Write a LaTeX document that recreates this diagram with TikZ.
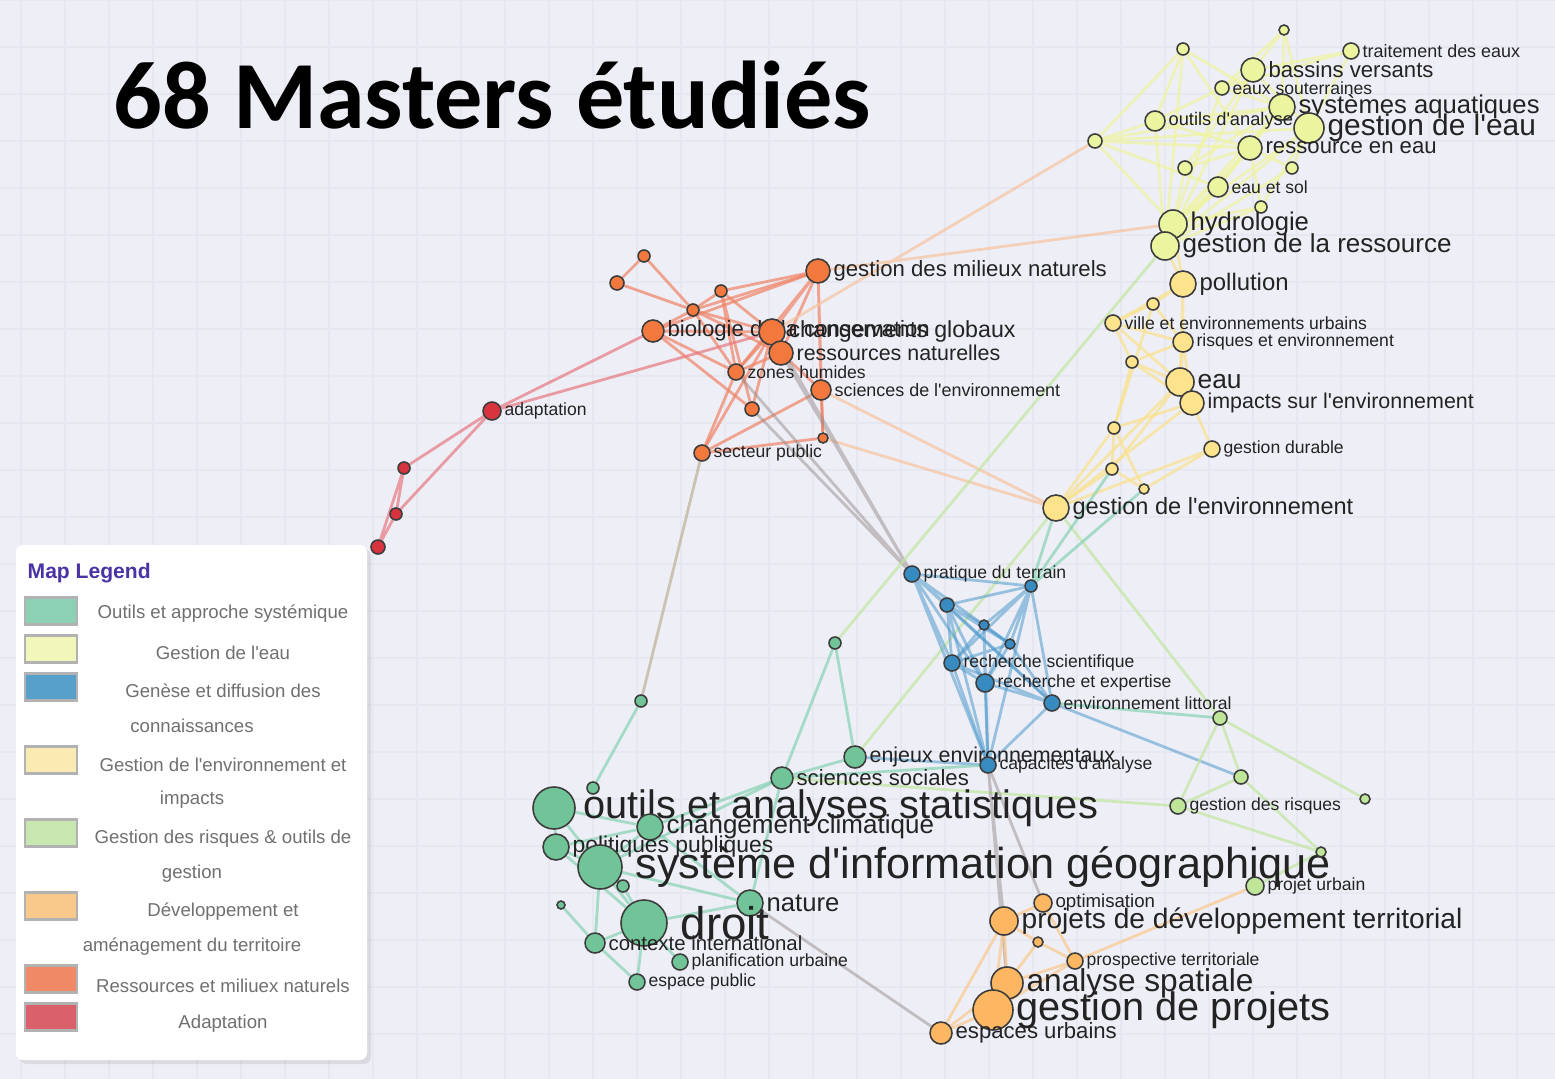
\documentclass[tikz,border=0pt]{standalone}
\usepackage{fontspec}
\setmainfont{Liberation Sans}
\newfontfamily\titlefont{Carlito}
\usetikzlibrary{shadows}
\pgfdeclarelayer{grille}
\pgfdeclarelayer{liens}
\pgfsetlayers{grille,liens,main}
\newcommand{\ap}{\textquotesingle}

\definecolor{fond}{RGB}{238,239,246}
\definecolor{grillec}{RGB}{230,231,240}
\definecolor{lbl}{RGB}{35,35,35}
\definecolor{nodeline}{RGB}{60,60,60}
\definecolor{eauF}{RGB}{235,244,158}
\definecolor{envF}{RGB}{253,227,140}
\definecolor{resF}{RGB}{243,120,62}
\definecolor{adF}{RGB}{215,52,64}
\definecolor{genF}{RGB}{56,139,192}
\definecolor{risF}{RGB}{190,229,152}
\definecolor{devF}{RGB}{253,183,98}
\definecolor{outF}{RGB}{112,196,152}
\definecolor{eauL}{RGB}{238,244,160}
\definecolor{envL}{RGB}{250,225,140}
\definecolor{resL}{RGB}{240,130,100}
\definecolor{adL}{RGB}{232,120,130}
\definecolor{genL}{RGB}{80,155,205}
\definecolor{risL}{RGB}{195,230,160}
\definecolor{devL}{RGB}{252,200,140}
\definecolor{outL}{RGB}{135,210,180}
\definecolor{grisL}{RGB}{150,140,140}
\definecolor{tanL}{RGB}{190,175,150}
\definecolor{oraL}{RGB}{247,195,160}
\definecolor{lgOut}{RGB}{141,209,180}
\definecolor{lgEau}{RGB}{241,247,187}
\definecolor{lgGen}{RGB}{86,160,203}
\definecolor{lgEnv}{RGB}{250,235,178}
\definecolor{lgRis}{RGB}{200,231,176}
\definecolor{lgDev}{RGB}{249,200,139}
\definecolor{lgRes}{RGB}{240,138,102}
\definecolor{lgAd}{RGB}{218,96,107}
\definecolor{legtitle}{RGB}{75,50,165}
\definecolor{legtxt}{RGB}{112,112,112}

\begin{document}
\begin{tikzpicture}[x=0.1mm, y=-0.1mm]
	\tikzset{nd/.style={circle, draw=nodeline, line width=0.45pt, inner sep=0pt},
		eauN/.style={nd, fill=eauF}, envN/.style={nd, fill=envF},
		resN/.style={nd, fill=resF}, adN/.style={nd, fill=adF},
		genN/.style={nd, fill=genF}, risN/.style={nd, fill=risF},
		devN/.style={nd, fill=devF}, outN/.style={nd, fill=outF},
		lb/.style={font=\fontsize{#1}{#1}\selectfont, text=lbl, inner sep=0.6pt},
		lien/.style={line width=0.8pt, opacity=0.7},
		eauE/.style={lien, draw=eauL}, envE/.style={lien, draw=envL},
		resE/.style={lien, draw=resL}, adE/.style={lien, draw=adL},
		genE/.style={lien, draw=genL, opacity=0.55}, risE/.style={lien, draw=risL},
		devE/.style={lien, draw=devL}, outE/.style={lien, draw=outL},
		grisE/.style={lien, draw=grisL, opacity=0.5}, tanE/.style={lien, draw=tanL},
		oraE/.style={lien, draw=oraL},
		swatch/.style={draw=black!30, line width=0.8pt, minimum width=5.2mm, minimum height=2.7mm, inner sep=0pt},
		legtext/.style={font=\fontsize{5.3}{6}\selectfont, text=legtxt, inner sep=0pt}}

	\useasboundingbox (0,0) rectangle (1555,1079);
	\begin{pgfonlayer}{grille}
		\fill[fond] (0,0) rectangle (1555,1079);
		\draw[grillec, line width=0.3pt, xstep=4.4mm, ystep=4.7mm, xshift=2.1mm] (-21,1079) grid (1534,0);
	\end{pgfonlayer}

	\node[anchor=base west, inner sep=0pt] (titre) at (113,129) {\titlefont\bfseries\fontsize{27.4}{30}\selectfont 68 Masters étudiés};

	% gestion de l'eau
	\node[eauN, minimum size=1.0mm] (w1) at (1284,30) {};
	\node[eauN, minimum size=1.2mm] (w2) at (1183,49) {};
	\node[eauN, minimum size=1.6mm, label={[lb=5.1]right:traitement des eaux}] (trait) at (1351,51) {};
	\node[eauN, minimum size=2.4mm, label={[lb=6.3]right:bassins versants}] (bass) at (1253,70) {};
	\node[eauN, minimum size=1.4mm, label={[lb=5]right:eaux souterraines}] (souter) at (1222,88) {};
	\node[eauN, minimum size=2.6mm, label={[lb=7.3]right:systèmes aquatiques}] (aqua) at (1282,107) {};
	\node[eauN, minimum size=1.4mm] (w3) at (1095,141) {};
	\node[eauN, minimum size=2.0mm, label={[lb=5.2]right:outils d\ap analyse}] (outan) at (1155,121) {};
	\node[eauN, minimum size=3.0mm, label={[lb=8.5]right:gestion de l\ap eau}] (geau) at (1309,128) {};
	\node[eauN, minimum size=2.4mm, label={[lb=6.3]right:ressource en eau}] (ress) at (1250,148) {};
	\node[eauN, minimum size=1.4mm] (w4) at (1185,168) {};
	\node[eauN, minimum size=1.2mm] (w5) at (1292,168) {};
	\node[eauN, minimum size=2.0mm, label={[lb=5]right:eau et sol}] (sol) at (1218,187) {};
	\node[eauN, minimum size=1.2mm] (w6) at (1261,207) {};
	\node[eauN, minimum size=2.8mm, label={[lb=7.3]right:hydrologie}] (hydro) at (1173,224) {};
	\node[eauN, minimum size=2.8mm, label={[lb=7.4]right:gestion de la ressource}] (gress) at (1165,246) {};

	% environnement et impacts
	\node[envN, minimum size=2.6mm, label={[lb=6.8]right:pollution}] (poll) at (1183,284) {};
	\node[envN, minimum size=1.2mm] (e1) at (1153,304) {};
	\node[envN, minimum size=1.6mm, label={[lb=5]right:ville et environnements urbains}] (ville) at (1113,323) {};
	\node[envN, minimum size=2.0mm, label={[lb=5]right:risques et environnement}] (risq) at (1183,342) {};
	\node[envN, minimum size=1.2mm] (e2) at (1132,362) {};
	\node[envN, minimum size=2.8mm, label={[lb=7.5]right:eau}] (eau) at (1180,382) {};
	\node[envN, minimum size=2.4mm, label={[lb=6.1]right:impacts sur l\ap environnement}] (impa) at (1192,403) {};
	\node[envN, minimum size=1.2mm] (e3) at (1114,428) {};
	\node[envN, minimum size=1.6mm, label={[lb=5]right:gestion durable}] (durab) at (1212,449) {};
	\node[envN, minimum size=1.2mm] (e4) at (1112,469) {};
	\node[envN, minimum size=1.0mm] (e5) at (1144,489) {};
	\node[envN, minimum size=2.6mm, label={[lb=6.7]right:gestion de l\ap environnement}] (genv) at (1056,508) {};

	% ressources et milieux naturels
	\node[resN, minimum size=1.2mm] (r1) at (644,256) {};
	\node[resN, minimum size=1.4mm] (r2) at (617,283) {};
	\node[resN, minimum size=1.2mm] (r3) at (721,291) {};
	\node[resN, minimum size=1.2mm] (r4) at (693,310) {};
	\node[resN, minimum size=2.4mm, label={[lb=6.3]right:gestion des milieux naturels}] (gmil) at (818,271) {};
	\node[resN, minimum size=2.2mm, label={[lb=6.3]right:biologie de la conservation}] (bio) at (653,331) {};
	\node[resN, minimum size=2.6mm, label={[lb=6.6]right:changements globaux}] (chgl) at (772,332) {};
	\node[resN, minimum size=2.4mm, label={[lb=6.1]right:ressources naturelles}] (rnat) at (781,353) {};
	\node[resN, minimum size=1.6mm, label={[lb=5]right:zones humides}] (zone) at (736,372) {};
	\node[resN, minimum size=2.0mm, label={[lb=5.1]right:sciences de l\ap environnement}] (scenv) at (821,390) {};
	\node[resN, minimum size=1.4mm] (r5) at (752,409) {};
	\node[resN, minimum size=1.0mm] (r6) at (823,438) {};
	\node[resN, minimum size=1.6mm, label={[lb=5]right:secteur public}] (secp) at (702,453) {};

	% adaptation
	\node[adN, minimum size=1.8mm, label={[lb=5]right:adaptation}] (adap) at (492,411) {};
	\node[adN, minimum size=1.2mm] (a1) at (404,468) {};
	\node[adN, minimum size=1.2mm] (a2) at (396,514) {};
	\node[adN, minimum size=1.4mm] (a3) at (378,547) {};

	% genese et diffusion des connaissances
	\node[genN, minimum size=1.6mm, label={[lb=5]right:pratique du terrain}] (prat) at (912,574) {};
	\node[genN, minimum size=1.2mm] (b1) at (1031,586) {};
	\node[genN, minimum size=1.4mm] (b2) at (947,605) {};
	\node[genN, minimum size=1.0mm] (b3) at (984,625) {};
	\node[genN, minimum size=1.0mm] (b4) at (1010,644) {};
	\node[genN, minimum size=1.6mm, label={[lb=5]right:recherche scientifique}] (rsci) at (952,663) {};
	\node[genN, minimum size=1.8mm, label={[lb=5]right:recherche et expertise}] (rexp) at (985,683) {};
	\node[genN, minimum size=1.6mm, label={[lb=5]right:environnement littoral}] (litt) at (1052,703) {};

	% gestion des risques
	\node[risN, minimum size=1.4mm] (g1) at (1220,718) {};
	\node[risN, minimum size=1.4mm] (g2) at (1241,777) {};
	\node[risN, minimum size=1.0mm] (g3) at (1365,799) {};
	\node[risN, minimum size=1.6mm, label={[lb=5]right:gestion des risques}] (grisq) at (1178,806) {};

	% outils et approche systemique
	\node[outN, minimum size=1.2mm] (n1) at (835,643) {};
	\node[outN, minimum size=1.2mm] (n2) at (641,701) {};
	\node[outN, minimum size=2.2mm, label={[lb=6.1]right:enjeux environnementaux}] (enjeux) at (855,757) {};
	\node[genN, minimum size=1.6mm, label={[lb=5]right:capacités d\ap analyse}] (capa) at (988,765) {};
	\node[outN, minimum size=2.2mm, label={[lb=6.3]right:sciences sociales}] (socio) at (782,778) {};
	\node[outN, minimum size=1.2mm] (n3) at (593,788) {};
	\node[outN, minimum size=4.2mm, label={[lb=11.3, xshift=0.5mm]right:outils et analyses statistiques}] (stat) at (554,808) {};
	\node[outN, minimum size=2.6mm, label={[lb=7.4]right:changement climatique}] (chclim) at (650,827) {};
	\node[outN, minimum size=2.6mm, label={[lb=6.5]right:politiques publiques}] (polit) at (556,847) {};
	\node[outN, minimum size=4.4mm, label={[lb=12.3, xshift=1mm]right:système d\ap information géographique}] (sig) at (600,867) {};
	\node[outN, minimum size=1.2mm] (n4) at (623,886) {};
	\node[outN, minimum size=0.8mm] (n5) at (561,905) {};
	\node[outN, minimum size=2.6mm, label={[lb=7.3]right:nature}] (nature) at (750,903) {};
	\node[outN, minimum size=4.6mm, label={[lb=13, xshift=1mm]right:droit}] (droit) at (644,923) {};
	\node[outN, minimum size=2.0mm, label={[lb=5.8]right:contexte international}] (ctx) at (595,943) {};
	\node[outN, minimum size=1.6mm, label={[lb=5]right:planification urbaine}] (plan) at (680,962) {};
	\node[outN, minimum size=1.6mm, label={[lb=5]right:espace public}] (esp) at (637,982) {};

	% developpement et amenagement du territoire
	\node[risN, minimum size=1.0mm] (g4) at (1321,852) {};
	\node[risN, minimum size=1.8mm, label={[lb=5]right:projet urbain}] (purb) at (1255,886) {};
	\node[devN, minimum size=1.8mm, label={[lb=5.3]right:optimisation}] (optim) at (1043,903) {};
	\node[devN, minimum size=2.8mm, label={[lb=8]right:projets de développement territorial}] (projdev) at (1004,921) {};
	\node[devN, minimum size=1.0mm] (o1) at (1038,942) {};
	\node[devN, minimum size=1.6mm, label={[lb=5]right:prospective territoriale}] (prosp) at (1075,961) {};
	\node[devN, minimum size=3.2mm, label={[lb=9]right:analyse spatiale}] (anasp) at (1007,983) {};
	\node[devN, minimum size=4.0mm, label={[lb=11.3]right:gestion de projets}] (gproj) at (993,1010) {};
	\node[devN, minimum size=2.2mm, label={[lb=6.3]right:espaces urbains}] (espu) at (941,1033) {};

	\begin{pgfonlayer}{liens}
		\draw[eauE] (w1) -- (bass) (w1) -- (geau) (w1) -- (souter) (w1) -- (aqua);
		\draw[eauE] (w2) -- (outan) (w2) -- (gress) (w2) -- (ress) (w2) -- (aqua) (w2) -- (w3);
		\draw[eauE] (trait) -- (bass) (trait) -- (souter) (trait) -- (geau);
		\draw[eauE] (bass) -- (souter) (bass) -- (geau) (bass) -- (w4) (bass) -- (gress);
		\draw[eauE] (souter) -- (outan) (souter) -- (hydro) (souter) -- (aqua);
		\draw[eauE] (outan) -- (w3) (outan) -- (aqua) (outan) -- (gress) (outan) -- (ress);
		\draw[eauE] (w3) -- (aqua) (w3) -- (ress) (w3) -- (hydro) (w3) -- (geau) (w3) -- (sol);
		\draw[eauE] (ress) -- (aqua) (ress) -- (sol) (ress) -- (hydro) (ress) -- (gress) (ress) -- (w6);
		\draw[eauE] (w4) -- (hydro) (w4) -- (ress) (w4) -- (aqua);
		\draw[eauE] (w5) -- (ress) (w5) -- (gress) (w5) -- (geau);
		\draw[eauE] (sol) -- (hydro) (sol) -- (gress) (sol) -- (aqua);
		\draw[eauE] (w6) -- (hydro) (w6) -- (geau) (w6) -- (gress);
		\draw[eauE] (hydro) -- (geau) (gress) -- (geau) (hydro) -- (aqua) (hydro) -- (gress);
		\draw[envE] (poll) -- (gress) (poll) -- (hydro);
		\draw[envE] (poll) -- (e1) (poll) -- (risq) (poll) -- (eau) (poll) -- (ville);
		\draw[envE] (e1) -- (ville) (e1) -- (risq) (e1) -- (e3);
		\draw[envE] (ville) -- (e2) (ville) -- (risq) (ville) -- (eau);
		\draw[envE] (e2) -- (risq) (e2) -- (eau) (e2) -- (e3) (e2) -- (impa);
		\draw[envE] (risq) -- (eau) (risq) -- (impa) (eau) -- (impa) (eau) -- (e4) (eau) -- (genv);
		\draw[envE] (impa) -- (durab) (impa) -- (e3) (impa) -- (genv);
		\draw[envE] (e3) -- (e4) (e3) -- (e5) (e3) -- (genv) (e4) -- (genv) (e4) -- (e5);
		\draw[envE] (durab) -- (e5) (durab) -- (genv);
		\draw[resE] (r1) -- (r4) (r1) -- (r2) (r2) -- (r4) (r3) -- (r4) (r3) -- (gmil) (r3) -- (zone) (r3) -- (r5) (r3) -- (chgl);
		\draw[resE] (r4) -- (gmil) (r4) -- (bio) (r4) -- (chgl) (r4) -- (zone) (r4) -- (rnat);
		\draw[resE] (gmil) -- (bio) (gmil) -- (chgl) (gmil) -- (rnat) (gmil) -- (zone) (gmil) -- (scenv) (gmil) -- (r6);
		\draw[resE] (bio) -- (chgl) (bio) -- (r5) (bio) -- (zone);
		\draw[resE] (chgl) -- (rnat) (chgl) -- (zone) (chgl) -- (secp) (chgl) -- (r5);
		\draw[resE] (rnat) -- (zone) (rnat) -- (scenv) (scenv) -- (secp) (scenv) -- (r6) (secp) -- (r6) (secp) -- (zone);
		\draw[adE] (adap) -- (bio) (adap) -- (chgl) (adap) -- (a1) (adap) -- (a2) (a1) -- (a2) (a1) -- (a3) (a2) -- (a3);
		\draw[oraE] (gmil) -- (hydro) (chgl) -- (w3) (scenv) -- (genv) (r6) -- (genv);
		\draw[grisE] (zone) -- (prat) (r5) -- (prat) (rnat) -- (prat) (chgl) -- (prat);
		\draw[tanE] (secp) -- (n2);
		\draw[outE] (n2) -- (n3) (n1) -- (enjeux) (n1) -- (socio);
		\draw[risE] (n1) -- (gress) (enjeux) -- (genv) (genv) -- (g1);
		\draw[outE] (genv) -- (b1) (e4) -- (b1) (e5) -- (b1);
		\draw[genE] (prat) -- (b1) (prat) -- (b2) (prat) -- (b3) (prat) -- (b4) (prat) -- (rsci) (prat) -- (rexp) (prat) -- (litt) (prat) -- (capa);
		\draw[genE] (b1) -- (b2) (b1) -- (b3) (b1) -- (b4) (b1) -- (rsci) (b1) -- (rexp) (b1) -- (litt) (b1) -- (capa);
		\draw[genE] (b2) -- (b3) (b2) -- (b4) (b2) -- (rsci) (b2) -- (rexp) (b2) -- (litt) (b2) -- (capa);
		\draw[genE] (b3) -- (b4) (b3) -- (rsci) (b3) -- (rexp) (b3) -- (capa) (b4) -- (rsci) (b4) -- (rexp) (b4) -- (litt);
		\draw[genE] (rsci) -- (rexp) (rsci) -- (litt) (rsci) -- (capa) (rexp) -- (litt) (rexp) -- (capa) (litt) -- (capa);
		\draw[genE] (capa) -- (enjeux) (litt) -- (g2);
		\draw[outE] (socio) -- (capa) (litt) -- (g1);
		\draw[risE] (socio) -- (grisq) (purb) -- (g4) (g4) -- (grisq) (g4) -- (g2);
		\draw[risE] (g1) -- (g2) (g1) -- (grisq) (g1) -- (g3) (g2) -- (grisq);
		\draw[devE] (purb) -- (prosp);
		\draw[grisE] (capa) -- (optim) (capa) -- (projdev) (capa) -- (anasp) (nature) -- (espu);
		\draw[outE] (stat) -- (polit) (stat) -- (sig) (stat) -- (chclim) (polit) -- (sig) (polit) -- (chclim) (polit) -- (droit);
		\draw[outE] (sig) -- (droit) (sig) -- (nature) (sig) -- (chclim) (sig) -- (n4) (sig) -- (ctx) (sig) -- (socio);
		\draw[outE] (chclim) -- (nature) (chclim) -- (socio) (nature) -- (socio) (socio) -- (enjeux);
		\draw[outE] (droit) -- (nature) (droit) -- (ctx) (droit) -- (plan) (droit) -- (esp) (droit) -- (n4);
		\draw[outE] (ctx) -- (n5) (ctx) -- (esp);
		\draw[devE] (optim) -- (projdev) (optim) -- (prosp) (projdev) -- (o1) (projdev) -- (anasp) (projdev) -- (gproj);
		\draw[devE] (o1) -- (prosp) (o1) -- (anasp) (anasp) -- (prosp) (gproj) -- (prosp) (anasp) -- (gproj);
		\draw[devE] (gproj) -- (espu) (anasp) -- (espu) (projdev) -- (espu);
	\end{pgfonlayer}

	% legende
	\fill[white, rounded corners=2pt, drop shadow={opacity=0.18, shadow xshift=0.4mm, shadow yshift=-0.4mm}] (16,545) rectangle (367,1060);
	\node[anchor=base west, inner sep=0pt, text=legtitle, font=\bfseries\fontsize{6}{7}\selectfont] (legtitre) at (27,578) {Map Legend};
	\node[swatch, fill=lgOut] (sw1) at (51,611) {};
	\node[swatch, fill=lgEau] (sw2) at (51,649) {};
	\node[swatch, fill=lgGen] (sw3) at (51,687) {};
	\node[swatch, fill=lgEnv] (sw4) at (51,760) {};
	\node[swatch, fill=lgRis] (sw5) at (51,833) {};
	\node[swatch, fill=lgDev] (sw6) at (51,906) {};
	\node[swatch, fill=lgRes] (sw7) at (51,979) {};
	\node[swatch, fill=lgAd] (sw8) at (51,1017) {};
	\node[legtext] (lg1) at (223,614) {Outils et approche systémique};
	\node[legtext] (lg2) at (223,653) {Gestion de l\ap eau};
	\node[legtext] (lg3) at (223,691) {Genèse et diffusion des};
	\node[legtext] (lg3b) at (192,726) {connaissances};
	\node[legtext] (lg4) at (223,765) {Gestion de l\ap environnement et};
	\node[legtext] (lg4b) at (192,800) {impacts};
	\node[legtext] (lg5) at (223,839) {Gestion des risques \& outils de};
	\node[legtext] (lg5b) at (192,874) {gestion};
	\node[legtext] (lg6) at (223,912) {Développement et};
	\node[legtext] (lg6b) at (192,947) {aménagement du territoire};
	\node[legtext] (lg7) at (223,986) {Ressources et miliuex naturels};
	\node[legtext] (lg8) at (223,1024) {Adaptation};
\end{tikzpicture}
\end{document}
